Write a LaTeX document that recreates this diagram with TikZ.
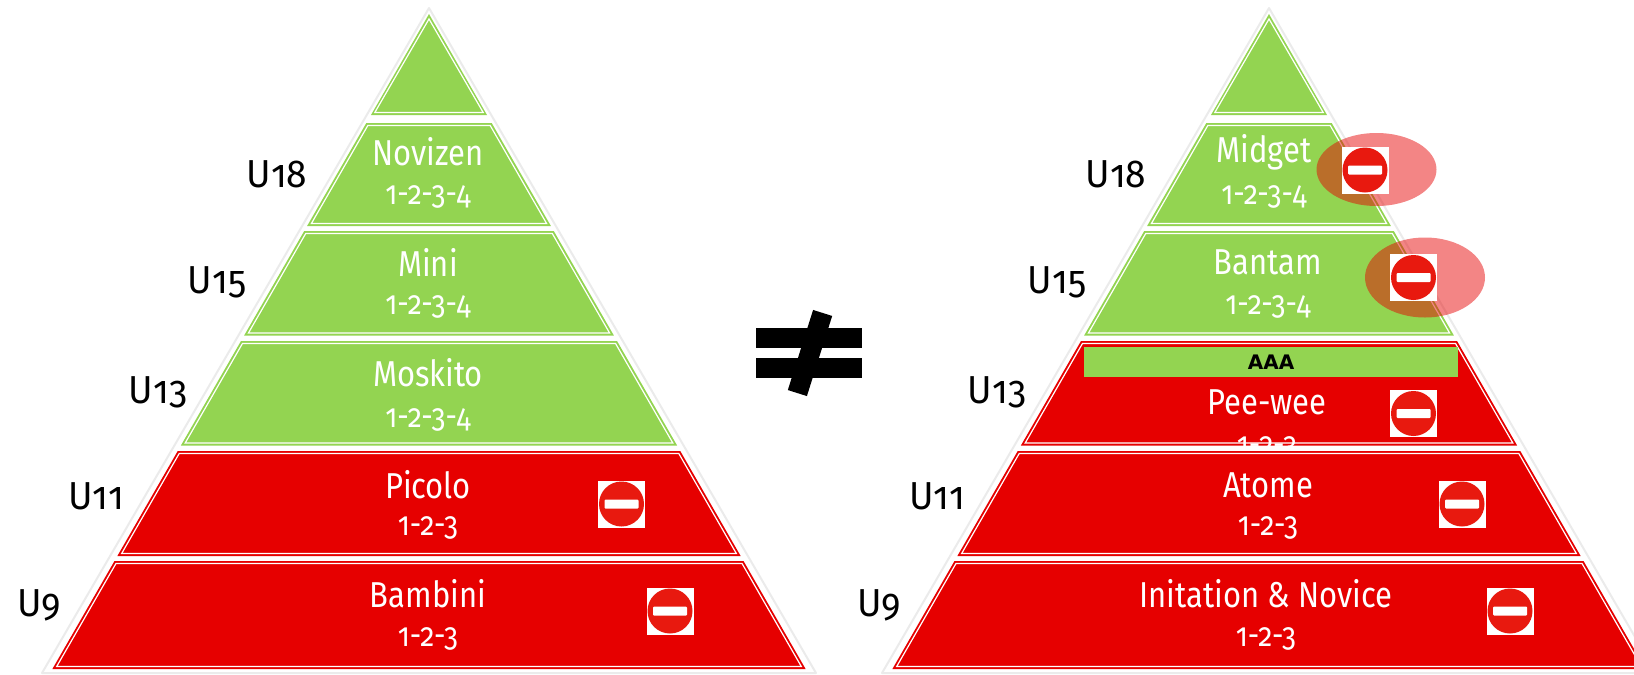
\documentclass[tikz,border=0pt]{standalone}
\usepackage{fontspec}
\usetikzlibrary{shapes.geometric}

\newfontfamily\tierfont[Numbers=OldStyle,FakeStretch=0.86]{Fira Sans}
\newfontfamily\agefont[Numbers=OldStyle,FakeStretch=0.95]{Fira Sans}
\newfontfamily\barfont{DejaVu Sans}

\definecolor{tiergreen}{HTML}{93D451}
\definecolor{tierred}{HTML}{E60000}
\definecolor{signred}{HTML}{E8190F}
\definecolor{outline}{HTML}{EBEBEB}

% one slice of a pyramid: centre x, top y, bottom y, colour
\newcommand{\drawtier}[4]{
  \pgfmathsetmacro{\wt}{0.575*(#2-14)}
  \pgfmathsetmacro{\wb}{0.575*(#3-14)}
  \fill [#4] (#1-\wt,#2) -- (#1+\wt,#2) -- (#1+\wb,#3) -- (#1-\wb,#3) -- cycle;
  \draw [tierline] (#1-\wt+1.5,#2+2.5) -- (#1+\wt-1.5,#2+2.5) -- (#1+\wb-4.3,#3-2.5) -- (#1-\wb+4.3,#3-2.5) -- cycle;
}

\begin{document}
\begin{tikzpicture}[x=1pt,y=-1pt]
\tikzset{
  inner sep=0pt, outer sep=0pt,
  tierline/.style={white, line width=1.2pt, line join=miter},
  hull/.style={draw=outline, fill=white, line width=2pt, line join=round},
  tierlabel/.style={text=white, font=\tierfont\fontsize{36}{36}\selectfont},
  countlabel/.style={text=white, font=\tierfont\fontsize{33}{33}\selectfont},
  agelabel/.style={text=black, font=\agefont\fontsize{39}{39}\selectfont},
  signbox/.style={fill=white, minimum size=47pt, path picture={
    \fill [signred] (path picture bounding box.center) circle (22.5pt);
    \fill [white, rounded corners=1pt] ([xshift=-17pt,yshift=-4.5pt]path picture bounding box.center)
      rectangle ([xshift=17pt,yshift=4.5pt]path picture bounding box.center);
  }},
  warnspot/.style={ellipse, fill=tierred, fill opacity=0.48, minimum width=120pt},
  neqbar/.style={fill=black, minimum width=106pt, minimum height=20pt},
}
\useasboundingbox (0,0) rectangle (1634,675);

% left pyramid
\draw [hull] (429,8) -- (816,673) -- (42,673) -- cycle;
\fill [tiergreen] (429,14) -- (487,115) -- (371,115) -- cycle;
\draw [tierline] (429,19) -- (483.2,112.5) -- (374.8,112.5) -- cycle;
\drawtier{429}{123}{226}{tiergreen}
\drawtier{429}{231}{335.5}{tiergreen}
\drawtier{429}{341}{445.5}{tiergreen}
\drawtier{429}{451}{556}{tierred}
\drawtier{429}{561}{669}{tierred}

% right pyramid
\draw [hull] (1269,8) -- (1656,673) -- (882,673) -- cycle;
\fill [tiergreen] (1269,14) -- (1327,115) -- (1211,115) -- cycle;
\draw [tierline] (1269,19) -- (1323.2,112.5) -- (1214.8,112.5) -- cycle;
\drawtier{1269}{123}{226}{tiergreen}
\drawtier{1269}{231}{335.5}{tiergreen}
\drawtier{1269}{341}{445.5}{tierred}

\node [tierlabel] (PW) at (1267,402) {Pee-wee};
\node [countlabel] (PWn) at (1267,448) {1-2-3};

% these two cover what is left of the Pee-wee numbers
\drawtier{1269}{451}{556}{tierred}
\drawtier{1269}{561}{669}{tierred}

\node [fill=tiergreen, minimum width=374pt, minimum height=30pt] (AB) at (1271,362) {};
\node [font=\barfont\bfseries\fontsize{20}{20}\selectfont] (AAA) at (1271,362) {AAA};

% left labels
\node [tierlabel] (NO) at (428,152) {Novizen};
\node [countlabel] (NOn) at (428,197) {1-2-3-4};
\node [tierlabel] (MI) at (428,262) {Mini};
\node [countlabel] (MIn) at (428,307) {1-2-3-4};
\node [tierlabel] (MO) at (428,373) {Moskito};
\node [countlabel] (MOn) at (428,420) {1-2-3-4};
\node [tierlabel] (PI) at (428,485) {Picolo};
\node [countlabel] (PIn) at (428,528) {1-2-3};
\node [tierlabel] (BA) at (428,594) {Bambini};
\node [countlabel] (BAn) at (428,639) {1-2-3};

% right labels
\node [tierlabel] (MD) at (1264,152) {Midget};
\node [countlabel] (MDn) at (1264,197) {1-2-3-4};
\node [tierlabel] (BT) at (1268,262) {Bantam};
\node [countlabel] (BTn) at (1268,307) {1-2-3-4};
\node [tierlabel] (AT) at (1268,485) {Atome};
\node [countlabel] (ATn) at (1268,528) {1-2-3};
\node [tierlabel] (IN) at (1266,594) {Initation \& Novice};
\node [countlabel] (INn) at (1266,639) {1-2-3};

% ages
\node [agelabel] (L18) at (277,174) {U18};
\node [agelabel] (L15) at (217,282) {U15};
\node [agelabel] (L13) at (158,392) {U13};
\node [agelabel] (L11) at (96,496) {U11};
\node [agelabel] (L9)  at (39,605) {U9};

\node [agelabel] (R18) at (1116,174) {U18};
\node [agelabel] (R15) at (1057,282) {U15};
\node [agelabel] (R13) at (997,392) {U13};
\node [agelabel] (R11) at (937,496) {U11};
\node [agelabel] (R9)  at (879,605) {U9};

% red spots and signs
\node [warnspot, minimum height=73pt] (SP1) at (1376.5,169.5) {};
\node [warnspot, minimum height=80pt] (SP2) at (1425,277.5) {};

\node [signbox] (S1) at (621.5,504) {};
\node [signbox] (S2) at (670,611) {};
\node [signbox] (S3) at (1365,170) {};
\node [signbox] (S4) at (1413.5,277.5) {};
\node [signbox] (S5) at (1413.5,413.5) {};
\node [signbox] (S6) at (1462,504) {};
\node [signbox] (S7) at (1510,611) {};

% not equal
\node [neqbar] (E1) at (809,338) {};
\node [neqbar] (E2) at (809,368) {};
\node [fill=black, minimum width=20pt, minimum height=84pt, rotate=-17.5] (SL) at (810,353) {};

\end{tikzpicture}
\end{document}
